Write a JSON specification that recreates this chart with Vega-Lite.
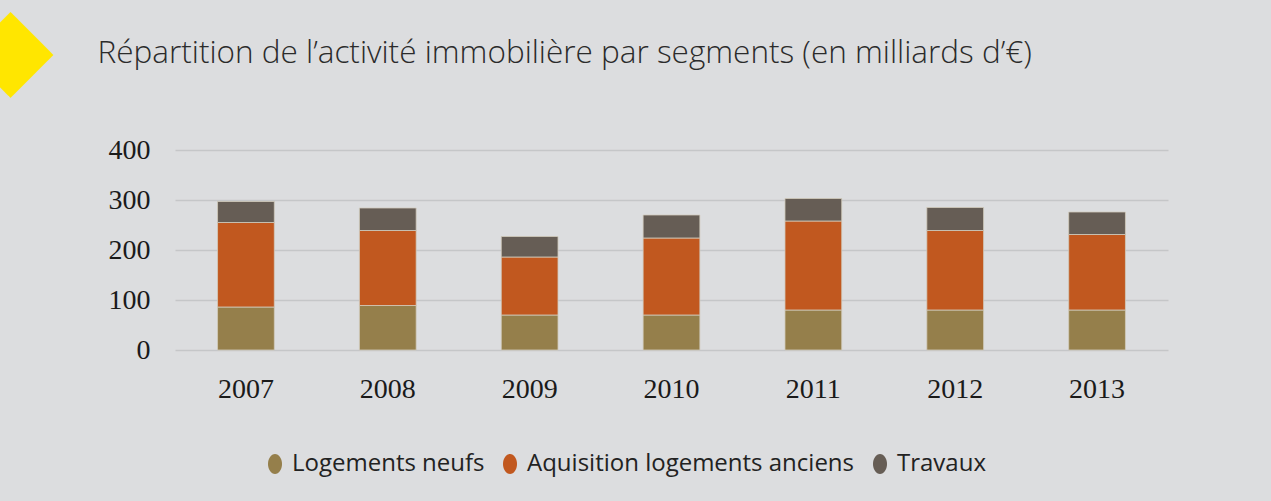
{
  "$schema": "https://vega.github.io/schema/vega-lite/v6.json",
  "width": 993,
  "height": 200,
  "autosize": {"type": "none"},
  "padding": {"left": 175, "top": 150, "right": 103, "bottom": 151},
  "background": "#dcdddf",
  "data": {
    "values": [
      {"annee": "2007", "segment": "Logements neufs", "k": 1, "valeur": 86},
      {"annee": "2007", "segment": "Aquisition logements anciens", "k": 2, "valeur": 169},
      {"annee": "2007", "segment": "Travaux", "k": 3, "valeur": 42},
      {"annee": "2008", "segment": "Logements neufs", "k": 1, "valeur": 89},
      {"annee": "2008", "segment": "Aquisition logements anciens", "k": 2, "valeur": 150},
      {"annee": "2008", "segment": "Travaux", "k": 3, "valeur": 45},
      {"annee": "2009", "segment": "Logements neufs", "k": 1, "valeur": 70},
      {"annee": "2009", "segment": "Aquisition logements anciens", "k": 2, "valeur": 116},
      {"annee": "2009", "segment": "Travaux", "k": 3, "valeur": 41},
      {"annee": "2010", "segment": "Logements neufs", "k": 1, "valeur": 70},
      {"annee": "2010", "segment": "Aquisition logements anciens", "k": 2, "valeur": 154},
      {"annee": "2010", "segment": "Travaux", "k": 3, "valeur": 46},
      {"annee": "2011", "segment": "Logements neufs", "k": 1, "valeur": 80},
      {"annee": "2011", "segment": "Aquisition logements anciens", "k": 2, "valeur": 178},
      {"annee": "2011", "segment": "Travaux", "k": 3, "valeur": 45},
      {"annee": "2012", "segment": "Logements neufs", "k": 1, "valeur": 80},
      {"annee": "2012", "segment": "Aquisition logements anciens", "k": 2, "valeur": 159},
      {"annee": "2012", "segment": "Travaux", "k": 3, "valeur": 46},
      {"annee": "2013", "segment": "Logements neufs", "k": 1, "valeur": 80},
      {"annee": "2013", "segment": "Aquisition logements anciens", "k": 2, "valeur": 151},
      {"annee": "2013", "segment": "Travaux", "k": 3, "valeur": 45}
    ]
  },
  "mark": {"type": "bar", "stroke": "#d2ccbd", "strokeWidth": 0.8},
  "encoding": {
    "x": {
      "field": "annee",
      "type": "nominal",
      "scale": {"paddingInner": 0.6, "paddingOuter": 0.3},
      "axis": {
        "title": "◆",
        "titleFont": "DejaVu Sans",
        "titleFontSize": 112,
        "titleFontWeight": "normal",
        "titleColor": "#ffe600",
        "titleX": -165,
        "titleY": -301,
        "titleAlign": "center",
        "titleBaseline": "middle",
        "titleAngle": 0,
        "labelAngle": 0,
        "labelFont": "Liberation Serif",
        "labelFontSize": 28,
        "labelColor": "#1a1a1a",
        "labelPadding": 25,
        "domain": false,
        "ticks": false
      }
    },
    "y": {
      "field": "valeur",
      "type": "quantitative",
      "aggregate": "sum",
      "stack": "zero",
      "scale": {"domain": [0, 400]},
      "axis": {
        "title": "Répartition de l’activité immobilière par segments (en milliards d’€)",
        "titleFont": "Open Sans",
        "titleFontWeight": 300,
        "titleFontSize": 31.5,
        "titleColor": "#2b2b2b",
        "titleAngle": 0,
        "titleAlign": "left",
        "titleBaseline": "alphabetic",
        "titleX": -78,
        "titleY": -88,
        "values": [0, 100, 200, 300, 400],
        "labelFont": "Liberation Serif",
        "labelFontSize": 28,
        "labelColor": "#1a1a1a",
        "labelPadding": 25,
        "domain": false,
        "ticks": false,
        "gridColor": "#c5c6c8",
        "gridWidth": 1.5
      }
    },
    "color": {
      "field": "segment",
      "type": "nominal",
      "scale": {
        "domain": ["Logements neufs", "Aquisition logements anciens", "Travaux"],
        "range": ["#957f4b", "#c1581f", "#665d55"]
      },
      "legend": {
        "title": null,
        "orient": "none",
        "direction": "horizontal",
        "legendX": 88,
        "legendY": 302,
        "padding": 0,
        "symbolType": "M-0.7,0A0.7,1 0 1,0 0.7,0A0.7,1 0 1,0 -0.7,0Z",
        "symbolSize": 400,
        "symbolStrokeWidth": 0,
        "symbolOpacity": 1,
        "labelOffset": 5,
        "columnPadding": 13,
        "labelFont": "Open Sans",
        "labelFontSize": 24,
        "labelColor": "#222222",
        "labelLimit": 500
      }
    },
    "order": {"field": "k", "type": "quantitative", "sort": "ascending"}
  },
  "config": {"view": {"stroke": null}}
}
